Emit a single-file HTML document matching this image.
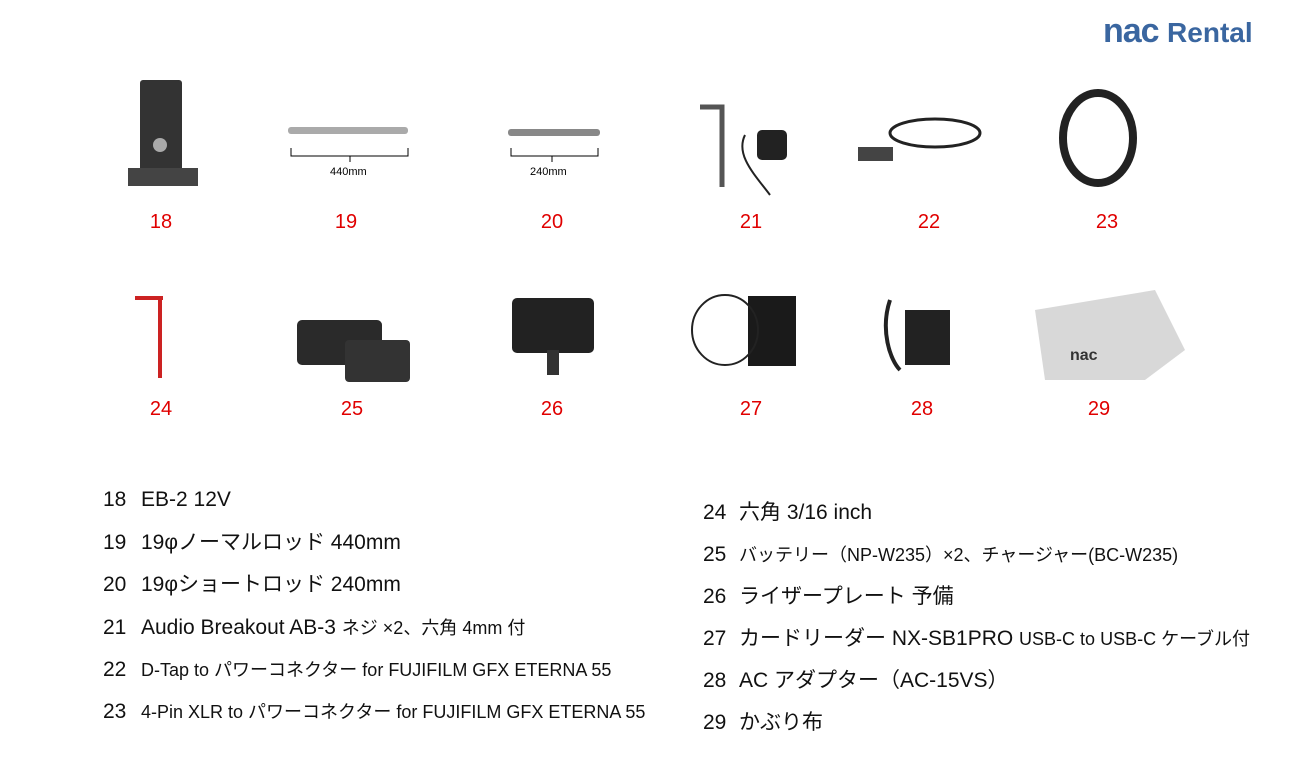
<!DOCTYPE html>
<html><head><meta charset="utf-8"><style>
body{margin:0;width:1300px;height:780px;background:#fff;position:relative;overflow:hidden;font-family:"Liberation Sans","Noto Sans CJK JP",sans-serif}
.a{position:absolute;white-space:nowrap}
.r{color:#e00000;font-size:20px;transform:translateX(-50%)}
.t{font-size:21px;color:#111;line-height:24px}
.s{font-size:18px}
svg{position:absolute;left:0;top:0}
</style></head><body>
<div class="a" style="left:1103px;top:12px;font-size:34px;font-weight:bold;color:#3a66a0;letter-spacing:-1px">nac <span style="font-size:28px;letter-spacing:0">Rental</span></div>

<svg width="1300" height="460">
<rect x="140" y="80" width="42" height="100" rx="3" fill="#333"/>
<rect x="128" y="168" width="70" height="18" fill="#444"/>
<circle cx="160" cy="145" r="7" fill="#aaa"/>
<rect x="288" y="127" width="120" height="7" rx="3" fill="#aaa"/>
<path d="M291 148v8h117v-8M350 156v6" stroke="#000" fill="none"/>
<rect x="508" y="129" width="92" height="7" rx="3" fill="#888"/>
<path d="M511 148v8h87v-8M552 156v6" stroke="#000" fill="none"/>
<path d="M700 107h22v80" stroke="#555" stroke-width="5" fill="none"/>
<rect x="757" y="130" width="30" height="30" rx="5" fill="#222"/>
<path d="M745 135c-10 20 10 40 25 60" stroke="#222" stroke-width="2" fill="none"/>
<ellipse cx="935" cy="133" rx="45" ry="14" fill="none" stroke="#222" stroke-width="3"/>
<rect x="858" y="147" width="35" height="14" fill="#444"/>
<ellipse cx="1098" cy="138" rx="35" ry="45" fill="none" stroke="#222" stroke-width="8"/>
<path d="M135 298h28M160 298v80" stroke="#c22" stroke-width="4" fill="none"/>
<rect x="297" y="320" width="85" height="45" rx="5" fill="#2a2a2a"/>
<rect x="345" y="340" width="65" height="42" rx="4" fill="#333"/>
<rect x="512" y="298" width="82" height="55" rx="5" fill="#222"/>
<rect x="547" y="350" width="12" height="25" fill="#333"/>
<rect x="748" y="296" width="48" height="70" fill="#1a1a1a"/>
<ellipse cx="725" cy="330" rx="33" ry="35" fill="none" stroke="#222" stroke-width="2"/>
<rect x="905" y="310" width="45" height="55" fill="#222"/>
<path d="M890 300c-10 30 0 60 10 70" stroke="#222" stroke-width="4" fill="none"/>
<path d="M1035 310l120 -20 30 60 -40 30 -100 0z" fill="#d8d8d8"/>
<text x="1070" y="360" font-size="16" font-weight="bold" fill="#333" font-family="Liberation Sans">nac</text>
</svg>

<div class="a r" style="left:161px;top:211px">18</div>
<div class="a r" style="left:346px;top:211px">19</div>
<div class="a r" style="left:552px;top:211px">20</div>
<div class="a r" style="left:751px;top:211px">21</div>
<div class="a r" style="left:929px;top:211px">22</div>
<div class="a r" style="left:1107px;top:211px">23</div>
<div class="a r" style="left:161px;top:398px">24</div>
<div class="a r" style="left:352px;top:398px">25</div>
<div class="a r" style="left:552px;top:398px">26</div>
<div class="a r" style="left:751px;top:398px">27</div>
<div class="a r" style="left:922px;top:398px">28</div>
<div class="a r" style="left:1099px;top:398px">29</div>
<div class="a" style="left:330px;top:166px;font-size:11px">440mm</div>
<div class="a" style="left:530px;top:166px;font-size:11px">240mm</div>

<div class="a t" style="left:103px;top:488px">18</div><div class="a t" style="left:141px;top:488px">EB-2 12V</div>
<div class="a t" style="left:103px;top:531px">19</div><div class="a t" style="left:141px;top:531px">19φノーマルロッド 440mm</div>
<div class="a t" style="left:103px;top:573px">20</div><div class="a t" style="left:141px;top:573px">19φショートロッド 240mm</div>
<div class="a t" style="left:103px;top:616px">21</div><div class="a t" style="left:141px;top:616px">Audio Breakout AB-3 <span class="s">ネジ ×2、六角 4mm 付</span></div>
<div class="a t" style="left:103px;top:658px">22</div><div class="a t" style="left:141px;top:658px"><span class="s">D-Tap to パワーコネクター for FUJIFILM GFX ETERNA 55</span></div>
<div class="a t" style="left:103px;top:700px">23</div><div class="a t" style="left:141px;top:700px"><span class="s">4-Pin XLR to パワーコネクター for FUJIFILM GFX ETERNA 55</span></div>

<div class="a t" style="left:703px;top:501px">24</div><div class="a t" style="left:739px;top:501px">六角 3/16 inch</div>
<div class="a t" style="left:703px;top:543px">25</div><div class="a t" style="left:739px;top:543px"><span class="s">バッテリー（NP-W235）×2、チャージャー(BC-W235)</span></div>
<div class="a t" style="left:703px;top:585px">26</div><div class="a t" style="left:739px;top:585px">ライザープレート 予備</div>
<div class="a t" style="left:703px;top:627px">27</div><div class="a t" style="left:739px;top:627px">カードリーダー NX-SB1PRO <span class="s">USB-C to USB-C ケーブル付</span></div>
<div class="a t" style="left:703px;top:669px">28</div><div class="a t" style="left:739px;top:669px">AC アダプター（AC-15VS）</div>
<div class="a t" style="left:703px;top:711px">29</div><div class="a t" style="left:739px;top:711px">かぶり布</div>
</body></html>
